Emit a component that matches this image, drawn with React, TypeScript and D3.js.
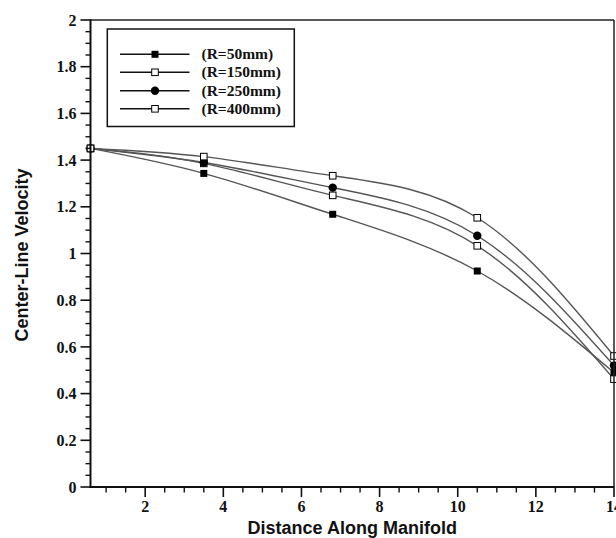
import React from "react";
import * as d3 from "d3";

const xValues = [0.6, 3.5, 6.8, 10.5, 14];
const r50 = [1.45, 1.343, 1.168, 0.925, 0.49];
const r150 = [1.45, 1.386, 1.249, 1.033, 0.462];
const r250 = [1.45, 1.39, 1.282, 1.076, 0.52];
const r400 = [1.45, 1.415, 1.333, 1.153, 0.561];
const seriesNames = ["(R=50mm)", "(R=150mm)", "(R=250mm)", "(R=400mm)"];
const seriesMarkers = ["filledSquare", "openSquare", "filledCircle", "openSquare"];
const xMajorTicks = [2, 4, 6, 8, 10, 12, 14];
const yMajorTicks = [0, 0.2, 0.4, 0.6, 0.8, 1, 1.2, 1.4, 1.6, 1.8, 2];

const W = 616;
const H = 538;
const L = 90.5;
const R = 614;
const T = 20;
const B = 487;

function Marker({ type, x, y }: { type: string; x: number; y: number }) {
  if (type === "filledCircle") return <circle cx={x} cy={y} r={4.2} fill="#000" />;
  if (type === "filledSquare")
    return <rect x={x - 3.5} y={y - 3.5} width={7} height={7} fill="#000" />;
  return (
    <rect x={x - 3.3} y={y - 3.3} width={6.6} height={6.6} fill="#fff" stroke="#000" strokeWidth={1} />
  );
}

export default function App() {
  const xs = d3.scaleLinear().domain([0.6, 14]).range([L, R]);
  const ys = d3.scaleLinear().domain([0, 2]).range([B, T]);
  const all = [r50, r150, r250, r400];
  const line = d3
    .line<[number, number]>()
    .x((d) => xs(d[0]))
    .y((d) => ys(d[1]))
    .curve(d3.curveNatural);

  const xMinor = d3.range(1, 14, 0.5).filter((v) => !xMajorTicks.includes(v));
  const yMinor = d3.range(0, 2.0001, 0.05).map((v) => Math.round(v * 100) / 100).filter(
    (v) => !yMajorTicks.some((m) => Math.abs(m - v) < 1e-6)
  );

  const serif = "'Liberation Serif', 'Times New Roman', serif";
  const sans = "'Liberation Sans', Arial, sans-serif";

  const legendRows = [54.3, 72.3, 90.7, 108.8];

  return (
    <svg width={W} height={H} style={{ position: "absolute", left: 0, top: 0, background: "#fff" }}>
      <rect x={0} y={0} width={W} height={H} fill="#fff" />
      {/* series lines */}
      {all.map((s, i) => (
        <path
          key={"l" + i}
          d={line(xValues.map((x, j) => [x, s[j]] as [number, number])) || ""}
          fill="none"
          stroke="#555"
          strokeWidth={1.4}
        />
      ))}
      {/* markers */}
      {all.map((s, i) =>
        xValues.map((x, j) => <Marker key={"m" + i + "-" + j} type={seriesMarkers[i]} x={xs(x)} y={ys(s[j])} />)
      )}
      {/* frame */}
      <line x1={L} x2={R} y1={T} y2={T} stroke="#222" strokeWidth={1.5} />
      <line x1={R} x2={R} y1={T} y2={B} stroke="#222" strokeWidth={1.5} />
      <line x1={L} x2={L} y1={T - 0.75} y2={B + 1} stroke="#111" strokeWidth={2} />
      <line x1={L - 1} x2={R} y1={B} y2={B} stroke="#111" strokeWidth={2} />
      {/* y ticks */}
      {yMajorTicks.map((v) => (
        <g key={"yt" + v}>
          <line x1={L - 10} x2={L} y1={ys(v)} y2={ys(v)} stroke="#111" strokeWidth={1.6} />
          <text
            x={L - 14}
            y={ys(v)}
            dy="0.35em"
            textAnchor="end"
            fontFamily={serif}
            fontWeight="bold"
            fontSize={16}
            fill="#111"
          >
            {String(v)}
          </text>
        </g>
      ))}
      {yMinor.map((v) => (
        <line key={"ym" + v} x1={L - 5} x2={L} y1={ys(v)} y2={ys(v)} stroke="#111" strokeWidth={1.4} />
      ))}
      {/* x ticks */}
      {xMajorTicks.map((v) => (
        <g key={"xt" + v}>
          <line x1={xs(v)} x2={xs(v)} y1={B} y2={B + 10} stroke="#111" strokeWidth={1.6} />
          <text
            x={xs(v)}
            y={512}
            textAnchor="middle"
            fontFamily={serif}
            fontWeight="bold"
            fontSize={16}
            fill="#111"
          >
            {String(v)}
          </text>
        </g>
      ))}
      {xMinor.map((v) => (
        <line key={"xm" + v} x1={xs(v)} x2={xs(v)} y1={B} y2={B + 5.5} stroke="#111" strokeWidth={1.4} />
      ))}
      {/* axis titles */}
      <text
        x={(L + R) / 2}
        y={534}
        textAnchor="middle"
        fontFamily={sans}
        fontWeight="bold"
        fontSize={18}
        fill="#111"
      >
        Distance Along Manifold
      </text>
      <text
        transform={`translate(28.3, 255) rotate(-90)`}
        textAnchor="middle"
        fontFamily={sans}
        fontWeight="bold"
        fontSize={18}
        fill="#111"
      >
        Center-Line Velocity
      </text>
      {/* legend */}
      <rect x={107.3} y={29} width={187} height={97.5} fill="#fff" stroke="#111" strokeWidth={1.5} />
      {seriesNames.map((name, i) => (
        <g key={"lg" + i}>
          <line x1={120} x2={189.5} y1={legendRows[i]} y2={legendRows[i]} stroke="#111" strokeWidth={1.4} />
          <Marker type={seriesMarkers[i]} x={155} y={legendRows[i]} />
          <text
            x={201.5}
            y={legendRows[i]}
            dy="0.33em"
            fontFamily={serif}
            fontWeight="bold"
            fontSize={15.5}
            fill="#111"
          >
            {name}
          </text>
        </g>
      ))}
    </svg>
  );
}
